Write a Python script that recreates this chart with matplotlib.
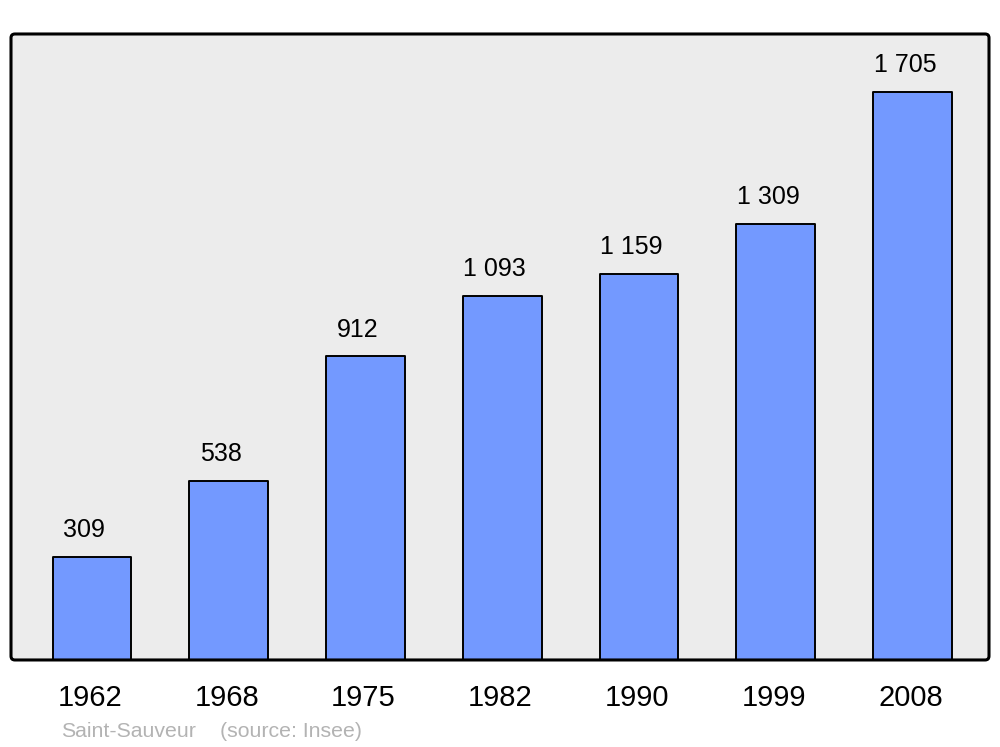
import matplotlib
matplotlib.use('Agg')
import matplotlib.pyplot as plt
from matplotlib.patches import FancyBboxPatch
import matplotlib.transforms as mtransforms

plt.rcParams['font.family'] = ['Liberation Sans', 'DejaVu Sans']

years = ['1962', '1968', '1975', '1982', '1990', '1999', '2008']
population = [309, 538, 912, 1093, 1159, 1309, 1705]
value_labels = ['309', '538', '912', '1 093', '1 159', '1 309', '1 705']

bar_color = '#7399ff'
bg_color = '#ececec'

fig = plt.figure(figsize=(10, 7.47), dpi=100)
ax = fig.add_axes([0.011, 0.1165, 0.978, 0.838])
ax.set_facecolor(bg_color)

x = list(range(len(years)))
ax.bar(x, population, width=0.575, color=bar_color, edgecolor='black',
       linewidth=1.4, joinstyle='round', zorder=2)

ax.set_xlim(-0.592, 6.559)
ax.set_ylim(0, 1879)

for xi, v, lab in zip(x, population, value_labels):
    ax.annotate(lab, (xi, v), xytext=(-5.5, 10.5), textcoords='offset points',
                ha='center', va='bottom', fontsize=18, color='black')

ax.set_xticks(x)
ax.set_xticklabels(years, fontsize=21)
ax.tick_params(axis='x', length=0, pad=17)
for t in ax.get_xticklabels():
    t.set_transform(t.get_transform() + mtransforms.ScaledTranslation(-2 / 100, 0, fig.dpi_scale_trans))
ax.set_yticks([])
for s in ax.spines.values():
    s.set_visible(False)

frame = FancyBboxPatch((0, 0), 1, 1, boxstyle='round,pad=0,rounding_size=0.004',
                       mutation_aspect=978 / 626, transform=ax.transAxes,
                       facecolor='none', edgecolor='black', linewidth=2.2,
                       clip_on=False, zorder=5)
ax.add_patch(frame)

fig.text(0.061, 0.0135, 'Saint-Sauveur', fontsize=15.3, color='#b3b3b3', ha='left', va='baseline')
fig.text(0.220, 0.0135, '(source: Insee)', fontsize=15.3, color='#b3b3b3', ha='left', va='baseline')

fig.savefig('out.png', dpi=100, facecolor='white')
